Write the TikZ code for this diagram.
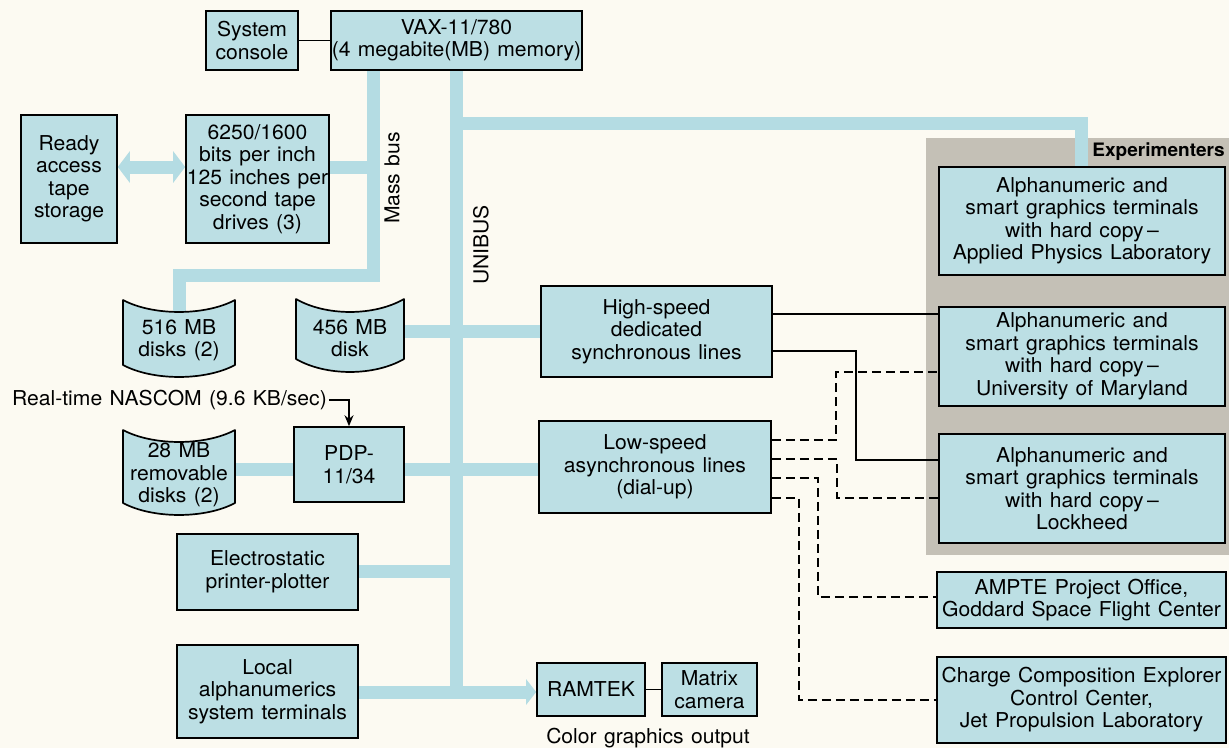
\documentclass[tikz,border=0pt]{standalone}
\usepackage{fontspec}
\setmainfont{TeX Gyre Heros}[FakeStretch=1.03,WordSpace=1.25]
\usetikzlibrary{arrows.meta,shadows,calc}
\definecolor{bg}{RGB}{252,250,242}
\definecolor{boxblue}{RGB}{188,223,228}
\definecolor{busblue}{RGB}{180,220,227}
\definecolor{panelgrey}{RGB}{196,192,182}
\tikzset{
  every node/.style={font=\fontsize{20.5}{22.5}\selectfont},
  box/.style={draw=black, line width=1.6pt, fill=boxblue, align=center, inner sep=0pt,
    general shadow={fill=black, shadow xshift=1.3pt, shadow yshift=-1.3pt}},
  disktext/.style={align=center, inner sep=1pt},
  diskshape/.style={draw=black, line width=1.7pt, fill=boxblue, line join=round},
  bus/.style={draw=busblue, line width=13pt, line cap=butt, line join=miter},
  conn/.style={draw=black, line width=1.5pt},
  dconn/.style={conn, dash pattern=on 9pt off 5pt},
  plain/.style={inner sep=2pt},
}
% #1 node, #2 half width, #3 top offset, #4 bottom offset, #5 sag
\newcommand\drawdiskshape[5]{%
  \path[diskshape]
    ($(#1.center)+(-#2,-#3)$) .. controls ($(#1.center)+(-#2+30,-#3+#5*1.33)$) and ($(#1.center)+(#2-30,-#3+#5*1.33)$) .. ($(#1.center)+(#2,-#3)$)
    -- ($(#1.center)+(#2,#4)$)
    .. controls ($(#1.center)+(#2-30,#4+#5*1.33)$) and ($(#1.center)+(-#2+30,#4+#5*1.33)$) .. ($(#1.center)+(-#2,#4)$) -- cycle;}
\begin{document}
\begin{tikzpicture}[x=1pt,y=-1pt]
\useasboundingbox (0,0) rectangle (1229,748);
\fill[bg] (0,0) rectangle (1229,748);
% experimenters panel
\fill[panelgrey] (926,138) rectangle (1229,555);
\node[plain, anchor=east, font=\fontsize{18.5}{20}\selectfont\bfseries] (exp) at (1227,152) {Experimenters};

% text nodes for disks (shapes drawn later)
\node[disktext] (d516) at (179,340) {516 MB\\disks (2)};
\node[disktext] (d456) at (350,338) {456 MB\\disk};
\node[disktext] (d28) at (179,475) {28 MB\\removable\\disks (2)};

\coordinate (mbx) at (373,0);

\node[box, minimum width=251pt, minimum height=59pt] (vax) at (456.5,40.5) {VAX-11/780\\(4 megabite(MB) memory)};
\node[box, minimum width=92pt, minimum height=59pt] (console) at (252,40.5) {System\\console};
\node[box, minimum width=96pt, minimum height=128pt] (tapest) at (69,179) {Ready\\access\\tape\\storage};
\node[box, minimum width=143pt, minimum height=128pt] (tape) at (257.5,179) {6250/1600\\bits per inch\\125 inches per\\second tape\\drives (3)};

\draw[bus] (mbx |- vax.south) -- (mbx |- 0,275) -| (d516.north);
\draw[bus] (tape.east |- 0,167) -- (mbx |- 0,167);
\draw[bus, {Triangle[length=12pt,width=31pt]}-{Triangle[length=12pt,width=31pt]}] (tapest.east |- 0,167) -- (tape.west |- 0,167);
\draw[bus] (vax.south) -- (vax.south |- 0,698.5);
\draw[bus] (vax.south |- 0,123) -| (1081,167);

\node[box, minimum width=231pt, minimum height=91pt] (high) at (656.5,331.5) {High-speed\\dedicated\\synchronous lines};
\node[box, minimum width=232pt, minimum height=92pt] (low) at (655,467) {Low-speed\\asynchronous lines\\(dial-up)};
\node[box, minimum width=181pt, minimum height=76pt] (elec) at (267.5,572) {Electrostatic\\printer-plotter};
\node[box, minimum width=181pt, minimum height=93pt] (local) at (267.5,691.5) {Local\\alphanumerics\\system terminals};
\node[box, minimum width=108pt, minimum height=53pt] (ramtek) at (591,689.5) {RAMTEK};
\node[box, minimum width=95pt, minimum height=53pt] (matrix) at (709.5,689.5) {Matrix\\camera};
\node[plain] (cgo) at (648,738) {Color graphics output};

\draw[bus] (d456.east |- 0,331) -- (high.west |- 0,331);
\draw[bus] (d28.east |- 0,469) -- (low.west |- 0,469);
\draw[bus] (elec.east |- 0,571) -- (vax.south |- 0,571);
\draw[bus, -{Triangle[length=10pt,width=25pt]}] (local.east |- 0,692) -- (ramtek.west |- 0,692);

% redraw boxes on top of buses
\node[box, minimum width=231pt, minimum height=91pt] at (high) {High-speed\\dedicated\\synchronous lines};
\node[box, minimum width=232pt, minimum height=92pt] at (low) {Low-speed\\asynchronous lines\\(dial-up)};
\node[box, minimum width=181pt, minimum height=76pt] at (elec) {Electrostatic\\printer-plotter};
\node[box, minimum width=181pt, minimum height=93pt] at (local) {Local\\alphanumerics\\system terminals};
\node[box, minimum width=108pt, minimum height=53pt] at (ramtek) {RAMTEK};
\node[box, minimum width=143pt, minimum height=128pt] at (tape) {6250/1600\\bits per inch\\125 inches per\\second tape\\drives (3)};
\node[box, minimum width=251pt, minimum height=59pt] at (vax) {VAX-11/780\\(4 megabite(MB) memory)};

\node[box, minimum width=110pt, minimum height=75pt] (pdp) at (349,464.5) {PDP-\\11/34};

% disks
\drawdiskshape{d516}{56}{40}{25}{12}
\node[disktext] at (d516) {516 MB\\disks (2)};
\drawdiskshape{d456}{54}{39}{21}{13}
\node[disktext] at (d456) {456 MB\\disk};
\drawdiskshape{d28}{56}{45}{28}{12}
\node[disktext] at (d28) {28 MB\\removable\\disks (2)};

% experimenter boxes
\node[box, minimum width=286pt, minimum height=108pt] (apl) at (1082,221) {Alphanumeric and\\smart graphics terminals\\with hard copy\,–\\Applied Physics Laboratory};
\node[box, minimum width=286pt, minimum height=99pt] (umd) at (1082,356.5) {Alphanumeric and\\smart graphics terminals\\with hard copy\,–\\University of Maryland};
\node[box, minimum width=286pt, minimum height=109pt] (lock) at (1082,488.5) {Alphanumeric and\\smart graphics terminals\\with hard copy\,–\\Lockheed};
\node[box, minimum width=289pt, minimum height=56pt] (ampte) at (1081.5,600) {AMPTE Project Office,\\Goddard Space Flight Center};
\node[box, minimum width=289pt, minimum height=86pt] (cce) at (1081.5,700) {Charge Composition Explorer\\Control Center,\\Jet Propulsion Laboratory};

% bus labels
\node[plain, rotate=90] (mblabel) at (392,178) {Mass bus};
\node[plain, rotate=90] (unilabel) at (481,245) {UNIBUS};

% NASCOM
\node[plain, anchor=east] (nascom) at (329,400) {Real-time NASCOM (9.6 KB/sec)};
\draw[conn, -{Stealth[length=11pt,width=9pt]}] (nascom.east) -| (pdp.north);

% connectors
\draw[conn] (console.east) -- (vax.west);
\draw[conn] (ramtek.east) -- (matrix.west);
\draw[conn] (high.east |- 0,314) -- (umd.west |- 0,314);
\draw[conn] (high.east |- 0,351) -- (856,351) -- (856,460) -- (lock.west |- 0,460);
\draw[dconn] (low.east |- 0,440) -- (836,440) -- (836,372) -- (umd.west |- 0,372);
\draw[dconn] (low.east |- 0,459) -- (837,459) -- (837,498) -- (lock.west |- 0,498);
\draw[dconn] (low.east |- 0,478) -- (818,478) -- (818,597) -- (ampte.west |- 0,597);
\draw[dconn] (low.east |- 0,498) -- (799,498) -- (799,700) -- (cce.west |- 0,700);
\end{tikzpicture}
\end{document}
